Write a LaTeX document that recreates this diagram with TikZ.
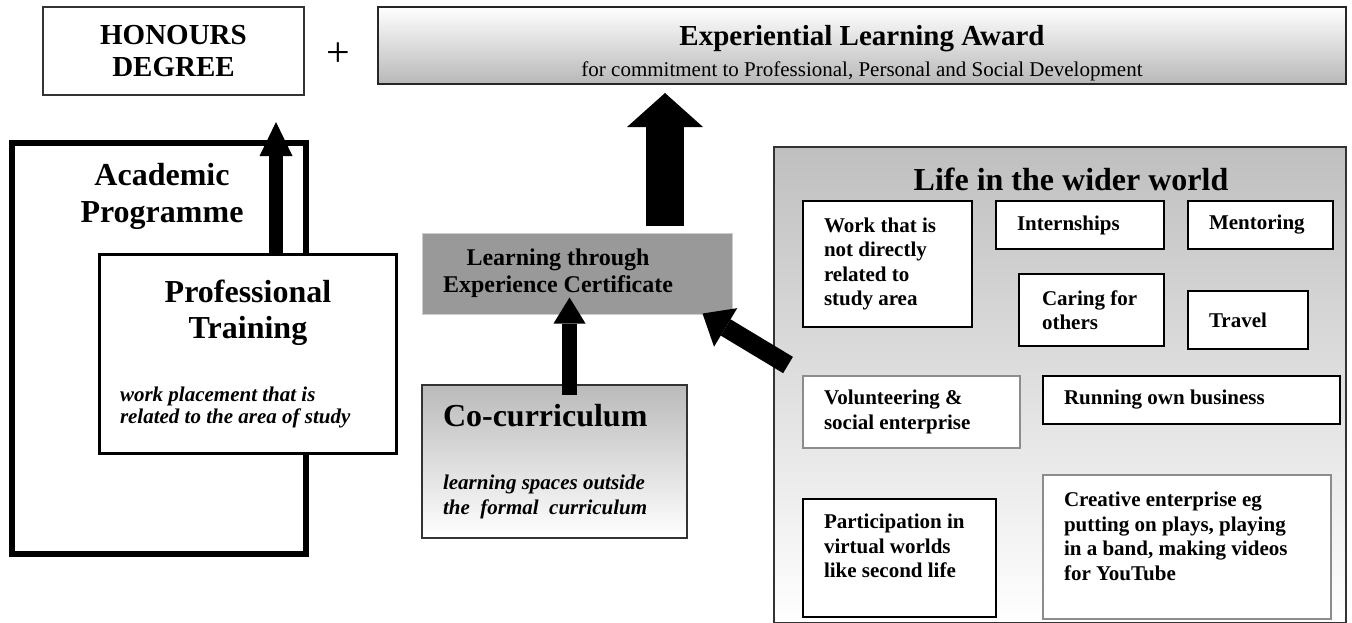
\documentclass[tikz,border=0pt]{standalone}
\usepackage{fontspec}
\setmainfont{Liberation Serif}
\usetikzlibrary{arrows.meta}

\begin{document}
\begin{tikzpicture}[x=0.5pt,y=-0.5pt]

\fill[white] (0,0) rectangle (1352,622);
\useasboundingbox (0,0) rectangle (1352,622);

\tikzset{
    ItemBox/.style={shape=rectangle, draw=black, line width=1pt, fill=white,
        align=flush left, inner xsep=10.5pt, font=\fontsize{10.5}{12.25}\selectfont\bfseries},
    FatArrow/.style n args={3}{line width=#1,
        -{Triangle[width=#2, length=#3, line width=0pt]}},
}

% Top row: degree plus award
\node (honours) at (173.5,51) [shape=rectangle, draw=black!80, line width=1pt,
    minimum width=130.5pt, minimum height=44pt, align=center,
    font=\fontsize{14.5}{16}\selectfont\bfseries] {HONOURS\\DEGREE};

\node (plus) at (338,55) [font=\fontsize{21}{24}\selectfont] {+};

\node (award) at (862,45.5) [shape=rectangle, draw=black!85, line width=1pt,
    top color=white, bottom color=black!28, text height=18pt, inner ysep=0pt,
    minimum width=484pt, minimum height=38.5pt, text width=460pt, align=flush center]
    {{\fontsize{14.5}{16}\selectfont\bfseries Experiential Learning Award\par}
     {\fontsize{10.5}{15.5}\selectfont for commitment to Professional, Personal and Social Development\par}};

% Left column
\node (academic) at (159,348.5) [shape=rectangle, draw=black, line width=3pt,
    minimum width=147pt, minimum height=205.5pt,
    label={[anchor=north, yshift=-11.5pt, xshift=1.5pt, inner sep=0pt, align=center,
        font=\fontsize{16}{18.5}\selectfont\bfseries]north:Academic\\Programme}] {};

\node (training) at (248,354) [shape=rectangle, draw=black, line width=1.5pt, fill=white,
    minimum width=148.5pt, minimum height=99.5pt, text width=128pt, inner xsep=10.25pt,
    align=flush left]
    {{\centering\fontsize{16}{18}\selectfont\bfseries Professional\\Training\par}
     \vspace{20.5pt}
     {\fontsize{10.5}{11}\selectfont\bfseries\itshape work placement that is\\related to the area of study\par}};

% Middle column
\node (cert) at (577,273.5) [shape=rectangle, draw=black!20, line width=0.5pt, fill=black!40,
    minimum width=155pt, minimum height=40.5pt, align=center,
    font=\fontsize{12}{13.5}\selectfont\bfseries]
    {Learning through\hspace*{19pt}\\Experience Certificate\hspace*{19pt}};

\node (cocurr) at (554.5,461.5) [shape=rectangle, draw=black!80, line width=0.75pt,
    top color=black!27, bottom color=white,
    minimum width=132.5pt, minimum height=76.5pt, text width=111.5pt, inner xsep=10.5pt,
    align=flush left]
    {{\fontsize{16}{18}\selectfont\bfseries Co-curriculum\par}
     \vspace{19pt}
     {\fontsize{10.5}{12.5}\selectfont\bfseries\itshape learning spaces outside\\the\ \ formal\ \ curriculum\par}};

% Right column - the wider world
\node (life) at (1060,385) [shape=rectangle, draw=black!80, line width=1pt,
    top color=black!25, bottom color=white, minimum width=286pt, minimum height=238pt,
    label={[anchor=north, yshift=-10.7pt, xshift=5.5pt, inner sep=0pt,
        font=\fontsize{16}{18}\selectfont\bfseries]north:Life in the wider world}] {};

\begin{scope}[every node/.style={ItemBox}]
    \node (work) at (887.5,264) [text width=63.5pt, minimum height=63pt]
        {Work that is\\not directly\\related to\\study area};
    \node (internships) at (1080,225) [text width=63pt, minimum height=24pt] {Internships};
    \node (mentoring) at (1260.5,225) [text width=51.5pt, minimum height=24pt] {Mentoring};
    \node (caring) at (1091.5,310) [text width=49.5pt, inner xsep=11.5pt, minimum height=36pt]
        {Caring for\\others};
    \node (travel) at (1248,320) [text width=39pt, minimum height=29pt] {Travel};

    \node (volunteer) at (911.5,412) [draw=black!45, text width=87.5pt, minimum height=36pt]
        {Volunteering \&\\social enterprise};
    \node (business) at (1191.5,400) [text width=127.5pt, minimum height=24pt]
        {Running own business};

    % text sits high in these two
    \node (virtual) at (899.5,558) [text width=75.5pt, minimum height=59pt, text depth=36.5pt]
        {Participation in\\virtual worlds\\like second life};
    \node (creative) at (1187,547) [draw=black!45, text width=123pt, minimum height=72pt,
        text depth=47.5pt]
        {Creative enterprise eg\\putting on plays, playing\\in a band, making videos\\for YouTube};
\end{scope}

% Block arrows
\begin{scope}[black]
    \draw [FatArrow={7pt}{16.5pt}{17pt}] ([xshift=14pt]training.north)
        -- ([shift={(102.5,26)}]honours.south);
    \draw [FatArrow={19pt}{38pt}{17pt}] ([shift={(88,-6.5)}]cert.north)
        -- ([shift={(-197,8)}]award.south);
    \draw [FatArrow={7.5pt}{16pt}{13pt}] ([shift={(15,10.5)}]cocurr.north)
        -- ([shift={(-7.5,-17)}]cert.south);
    \draw [FatArrow={9.5pt}{22.5pt}{13.5pt}] ([shift={(15,-20)}]life.west)
        -- ([shift={(-30,-1)}]cert.south east);
\end{scope}

\end{tikzpicture}
\end{document}
